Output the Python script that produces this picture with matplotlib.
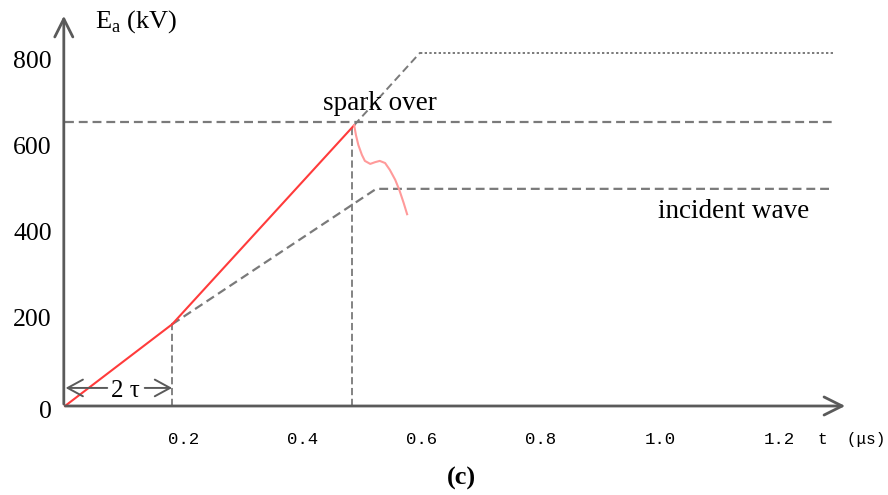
import matplotlib.pyplot as plt
import numpy as np

# time (us) and voltage (kV)
t_red = [0.0, 0.18, 0.486]
e_red = [0.0, 190.0, 653.0]

t_decay = [0.486, 0.489, 0.493, 0.499, 0.504, 0.513, 0.521, 0.529, 0.538,
           0.546, 0.555, 0.562, 0.569, 0.575]
e_decay = [653.0, 630.0, 607.0, 584.0, 570.0, 563.0, 567.0, 570.0, 565.0,
           549.0, 526.0, 502.0, 473.0, 446.0]

t_incident = [0.18, 0.523, 1.29]
e_incident = [190.0, 505.0, 505.0]

t_upper = [0.486, 0.597]
e_upper = [653.0, 822.0]
t_upper_flat = [0.597, 1.29]
e_upper_flat = [822.0, 822.0]

spark_level = 660.0
t_2tau = 0.18
t_spark = 0.483

xticks = [0.2, 0.4, 0.6, 0.8, 1.0, 1.2]
xtick_labels = ["0.2", "0.4", "0.6", "0.8", "1.0", "1.2"]
yticks = [0, 200, 400, 600, 800]

serif = "Liberation Serif"
mono = "Liberation Mono"
gray = "#7a7a7a"
axcol = "#5a5a5a"

fig = plt.figure(figsize=(8.88, 4.95), dpi=100)
ax = fig.add_axes([0, 0, 1, 1])
# pixel mapping: x = 65 + 595 t, y = 406 - 0.43 E
ax.set_xlim(-65 / 595, (888 - 65) / 595)
ax.set_ylim((406 - 495) / 0.43, 406 / 0.43)
ax.axis("off")

# axes with open arrow heads
head = "->,head_length=1.3,head_width=0.65"
ax.annotate("", xy=(-0.002, (406 - 13) / 0.43), xytext=(-0.002, -2),
            arrowprops=dict(arrowstyle=head, color=axcol, lw=2))
ax.annotate("", xy=((848 - 65) / 595, 0), xytext=(-0.004, 0),
            arrowprops=dict(arrowstyle=head, color=axcol, lw=2))

dash = (0, (4, 2.2))
# spark over level and vertical guides
ax.plot([0, 1.29], [spark_level, spark_level], color=gray, lw=1.6, linestyle=dash)
ax.plot([t_2tau, t_2tau], [0, 195], color=gray, lw=1.3, linestyle=(0, (4, 2)))
ax.plot([t_spark, t_spark], [0, 650], color=gray, lw=1.3, linestyle=(0, (4, 2)))

# incident wave and continued (unbroken) wave
ax.plot(t_incident, e_incident, color=gray, lw=1.6, linestyle=dash)
ax.plot(t_upper, e_upper, color=gray, lw=1.4, linestyle=dash)
ax.plot(t_upper_flat, e_upper_flat, color=gray, lw=1.4, linestyle=(0, (1.2, 1.2)))

# voltage at the terminal
ax.plot(t_red, e_red, color="#ff3b3b", lw=1.5)
ax.plot(t_decay, e_decay, color="#ff9a9a", lw=1.5, solid_joinstyle="round")

# 2 tau arrows
small = "->,head_length=1.1,head_width=0.6"
ax.annotate("", xy=(0.001, 42), xytext=(0.071, 42),
            arrowprops=dict(arrowstyle=small, color=axcol, lw=1.4, shrinkA=0, shrinkB=0))
ax.annotate("", xy=(t_2tau, 42), xytext=(0.134, 42),
            arrowprops=dict(arrowstyle=small, color=axcol, lw=1.4, shrinkA=0, shrinkB=0))
ax.text(0.101, 36, "2 τ", family=serif, fontsize=18, ha="center", va="center")

# tick labels
for x, lab in zip(xticks, xtick_labels):
    ax.text(x, -79, lab, family=mono, fontsize=12.5, ha="center", va="center")
for y in yticks:
    ax.text(-0.022, y - (14 if y == 0 else 0), str(y), family=serif, fontsize=18.5,
            ha="right", va="center")

ax.text((95 - 65) / 595, (406 - 22) / 0.43, r"E$_\mathregular{a}$ (kV)", family=serif,
        fontsize=19, ha="left", va="center")
ax.text((818 - 65) / 595, -79, "t  (μs)", family=mono, fontsize=11.5, ha="left", va="center")
ax.text((323 - 65) / 595, (406 - 104) / 0.43, "spark over", family=serif, fontsize=19.5,
        ha="left", va="center")
ax.text((658 - 65) / 595, (406 - 211) / 0.43, "incident wave", family=serif, fontsize=19.5,
        ha="left", va="center")
ax.text((461 - 65) / 595, (406 - 478) / 0.43, "(c)", family=serif, fontsize=19,
        weight="bold", ha="center", va="center")

fig.savefig("out.png", dpi=100)
